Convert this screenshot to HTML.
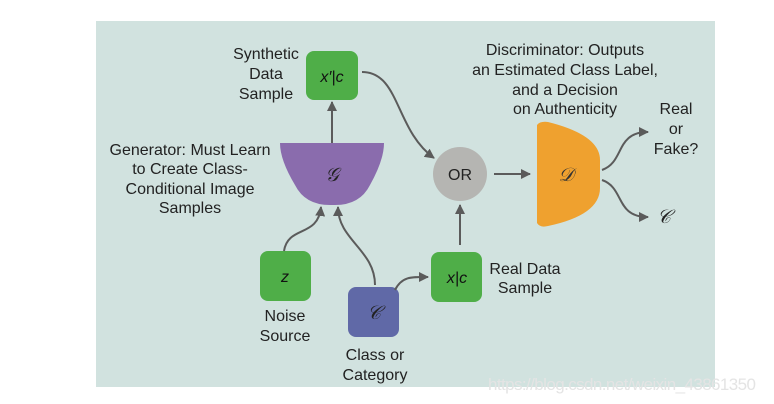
<!DOCTYPE html>
<html><head><style>
body{margin:0;width:774px;height:404px;background:#fff;overflow:hidden;font-family:"Liberation Sans",sans-serif}
</style></head><body>
<svg width="774" height="404" xmlns="http://www.w3.org/2000/svg" style="position:absolute;left:0;top:0">
<defs><marker id="a" viewBox="0 0 10 10" refX="9" refY="5" markerWidth="5" markerHeight="5" orient="auto"><path d="M0,0 L10,5 L0,10 z" fill="#5b5b5b"/></marker></defs>
<rect x="96" y="21" width="619" height="366" fill="#d1e2df"/>
<g font-size="16" fill="#222" text-anchor="middle">
<text x="266" y="59">Synthetic</text><text x="266" y="79">Data</text><text x="266" y="99">Sample</text>
<text x="190" y="155">Generator: Must Learn</text><text x="190" y="174">to Create Class-</text><text x="190" y="194">Conditional Image</text><text x="190" y="213">Samples</text>
<text x="565" y="55">Discriminator: Outputs</text><text x="565" y="75">an Estimated Class Label,</text><text x="565" y="95">and a Decision</text><text x="565" y="114">on Authenticity</text>
<text x="676" y="114">Real</text><text x="676" y="134">or</text><text x="676" y="154">Fake?</text>
<text x="285" y="321">Noise</text><text x="285" y="341">Source</text>
<text x="375" y="360">Class or</text><text x="375" y="380">Category</text>
<text x="525" y="274">Real Data</text><text x="525" y="293">Sample</text>
</g>
<rect x="306" y="51" width="52" height="49" rx="8" fill="#4fae48"/>
<text x="332" y="82" font-size="16" font-style="italic" text-anchor="middle" fill="#111">x′|c</text>
<path d="M280,143 L384,143 Q384,160 370,185 Q360,205 335,205 L330,205 Q305,205 295,185 Q280,160 280,143 Z" fill="#8a6cad"/>
<text x="332" y="181" font-size="19" font-style="italic" font-family="Liberation Serif,serif" text-anchor="middle" fill="#222">𝒢</text>
<circle cx="460" cy="174" r="27" fill="#b5b5b2"/>
<text x="460" y="180" font-size="16" text-anchor="middle" fill="#222">OR</text>
<path d="M537,125 Q540,121 548,122 Q600,135 600,160 L600,188 Q600,215 548,226 Q540,228 537,223 Z" fill="#efa12f"/>
<text x="566" y="181" font-size="19" font-style="italic" font-family="Liberation Serif,serif" text-anchor="middle" fill="#333">𝒟</text>
<rect x="260" y="251" width="51" height="50" rx="8" fill="#4fae48"/>
<text x="285" y="282" font-size="16" font-style="italic" text-anchor="middle" fill="#111">z</text>
<rect x="348" y="287" width="51" height="50" rx="8" fill="#6069a7"/>
<text x="374" y="319" font-size="19" font-style="italic" font-family="Liberation Serif,serif" text-anchor="middle" fill="#222">𝒞</text>
<rect x="431" y="252" width="51" height="50" rx="8" fill="#4fae48"/>
<text x="457" y="283" font-size="16" font-style="italic" text-anchor="middle" fill="#111">x|c</text>
<text x="657" y="223" font-size="19" font-style="italic" font-family="Liberation Serif,serif" fill="#222">𝒞</text>
<g stroke="#5b5b5b" stroke-width="2" fill="none" marker-end="url(#a)">
<path d="M332,143 L332,102"/>
<path d="M362,72 C400,72 395,130 434,158"/>
<path d="M494,174 L530,174"/>
<path d="M602,170 C625,162 615,132 648,132"/>
<path d="M602,180 C625,188 615,217 648,217"/>
<path d="M284,251 C288,225 318,238 321,207"/>
<path d="M375,285 C375,250 338,240 338,207"/>
<path d="M395,290 C402,276 412,277 428,277"/>
<path d="M460,245 L460,205"/>
</g>
<text x="488" y="390" font-size="17" fill="#e4e4e4" textLength="268">https://blog.csdn.net/weixin_43861350</text>
</svg>
</body></html>
